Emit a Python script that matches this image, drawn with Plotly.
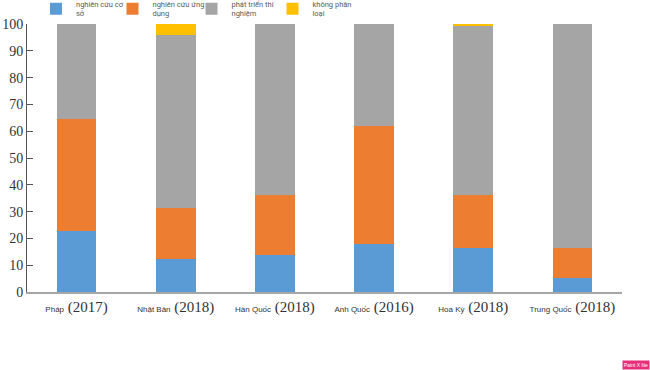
import plotly.graph_objects as go

countries = ["Pháp", "Nhật Bản", "Hàn Quốc", "Anh Quốc", "Hoa Kỳ", "Trung Quốc"]
years = ["2017", "2018", "2018", "2016", "2018", "2018"]

series_names = ["nghiên cứu cơ<br>sở", "nghiên cứu ứng<br>dụng", "phát triển thí<br>nghiệm", "không phân<br>loại"]
basic_research = [22.6, 12.3, 13.9, 17.9, 16.3, 5.4]
applied_research = [41.9, 19.2, 22.4, 44.1, 20.0, 11.2]
experimental_dev = [35.5, 64.4, 63.7, 38.0, 63.2, 83.4]
unclassified = [0.0, 4.1, 0.0, 0.0, 0.5, 0.0]
colors = ["#5B9BD5", "#ED7D31", "#A5A5A5", "#FFC000"]

y_ticks = list(range(0, 101, 10))

x = list(range(len(countries)))
tick_text = [
    f"<span style='font-family:Liberation Sans;font-size:8px'>{c}</span> ({y})"
    for c, y in zip(countries, years)
]

legend_ids = ["legend", "legend2", "legend3", "legend4"]
legend_x = [0.0151, 0.1437, 0.2765, 0.4126]

fig = go.Figure()
for name, vals, col, lid in zip(series_names,
                                [basic_research, applied_research, experimental_dev, unclassified],
                                colors, legend_ids):
    fig.add_trace(go.Bar(x=x, y=vals, name=name, marker=dict(color=col, line=dict(width=0)),
                         width=0.4, legend=lid))

legend_common = dict(orientation="h", xanchor="left", y=1.118, yanchor="top",
                     font=dict(family="Roboto", size=7.5, color="#595959"),
                     itemwidth=30, bgcolor="rgba(0,0,0,0)")

fig.update_layout(
    barmode="stack",
    width=650, height=370,
    margin=dict(l=27, r=28, t=24, b=78, autoexpand=False),
    plot_bgcolor="white", paper_bgcolor="white",
    showlegend=True,
    xaxis=dict(tickmode="array", tickvals=x, ticktext=tick_text, range=[-0.5, 5.5],
               showline=True, linecolor="#A6A6A6", linewidth=1.5, ticks="",
               showgrid=False, zeroline=False, automargin=False,
               tickfont=dict(family="Liberation Serif", size=15, color="#333333")),
    yaxis=dict(range=[0, 100], tickmode="array", tickvals=y_ticks,
               showline=True, linecolor="#555555", linewidth=1, ticks="inside",
               ticklen=6, tickcolor="#555555", showgrid=False, zeroline=False,
               automargin=False,
               tickfont=dict(family="Liberation Serif", size=14, color="#333333")),
    annotations=[dict(text="Paint X lite", x=1.0235, y=-0.272, xref="paper", yref="paper",
                      xanchor="center", yanchor="middle", showarrow=False,
                      font=dict(size=5, color="white", family="Liberation Sans"),
                      bgcolor="#E8307A", borderpad=1)],
)
for lid, lx in zip(legend_ids, legend_x):
    fig.update_layout({lid: dict(x=lx, **legend_common)})

fig.write_html("out.html", config={"displayModeBar": False},
               post_script="document.body.style.margin='0';document.body.style.overflow='hidden';")
